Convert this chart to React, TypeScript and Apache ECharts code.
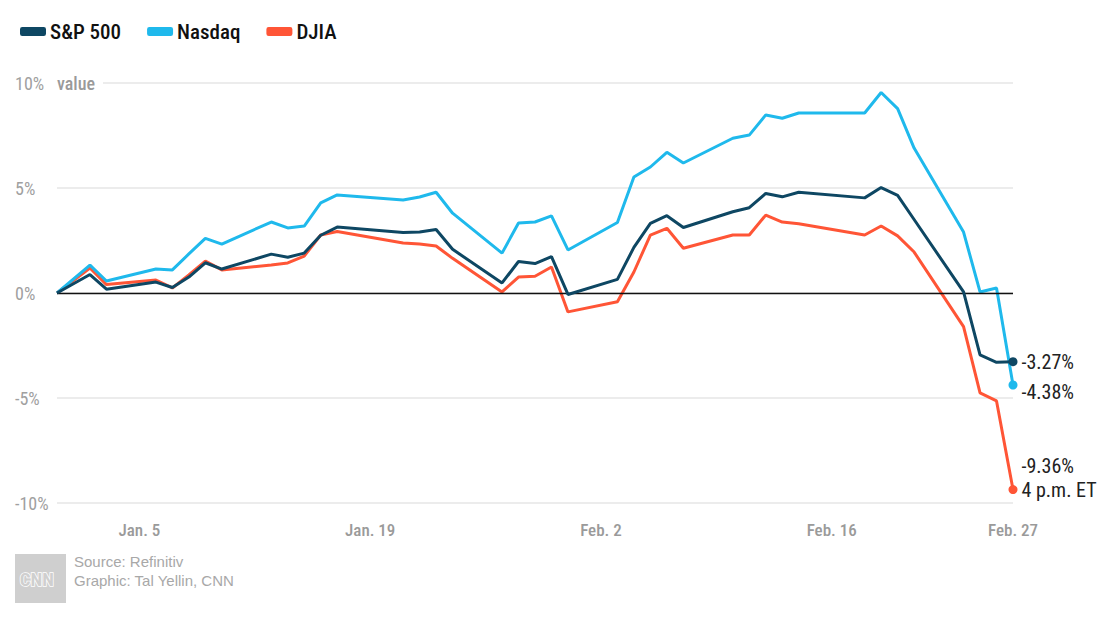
import React, { useEffect, useRef } from "react";
import * as echarts from "echarts";

const dates = [
  "2019-12-31", "2020-01-02", "2020-01-03", "2020-01-06", "2020-01-07", "2020-01-08", "2020-01-09", "2020-01-10",
  "2020-01-13", "2020-01-14", "2020-01-15", "2020-01-16", "2020-01-17", "2020-01-21", "2020-01-22", "2020-01-23",
  "2020-01-24", "2020-01-27", "2020-01-28", "2020-01-29", "2020-01-30", "2020-01-31", "2020-02-03", "2020-02-04",
  "2020-02-05", "2020-02-06", "2020-02-07", "2020-02-10", "2020-02-11", "2020-02-12", "2020-02-13", "2020-02-14",
  "2020-02-18", "2020-02-19", "2020-02-20", "2020-02-21", "2020-02-24", "2020-02-25", "2020-02-26", "2020-02-27",
];

const sp500 = [
  0, 0.88, 0.18, 0.52, 0.26, 0.76, 1.44, 1.14, 1.85, 1.7, 1.9, 2.75, 3.14, 2.88, 2.9, 3.02, 2.08, 0.48, 1.5, 1.4,
  1.73, -0.07, 0.65, 2.17, 3.32, 3.68, 3.12, 3.87, 4.06, 4.74, 4.58, 4.8, 4.53, 5.02, 4.65, 3.5, 0.05, -2.95, -3.3, -3.27,
];

const nasdaq = [
  0, 1.33, 0.57, 1.14, 1.1, 1.86, 2.6, 2.33, 3.38, 3.1, 3.19, 4.29, 4.67, 4.43, 4.57, 4.8, 3.8, 1.9, 3.33, 3.38,
  3.67, 2.05, 3.36, 5.52, 6.0, 6.7, 6.19, 7.37, 7.52, 8.48, 8.32, 8.57, 8.57, 9.55, 8.78, 6.9, 2.9, 0.05, 0.24, -4.38,
];

const djia = [
  0, 1.19, 0.4, 0.62, 0.24, 0.86, 1.52, 1.1, 1.33, 1.43, 1.76, 2.76, 2.93, 2.38, 2.33, 2.24, 1.65, 0.05, 0.76, 0.8,
  1.24, -0.9, -0.42, 1.0, 2.76, 3.08, 2.13, 2.76, 2.76, 3.71, 3.38, 3.3, 2.76, 3.19, 2.72, 1.95, -1.6, -4.76, -5.14, -9.36,
];

const seriesNames = ["S&P 500", "Nasdaq", "DJIA"];
const seriesColors = ["#0e4763", "#1fb9ec", "#ff5536"];

const tickDates = ["2020-01-05", "2020-01-19", "2020-02-02", "2020-02-16", "2020-02-27"];
const tickLabels = ["Jan. 5", "Jan. 19", "Feb. 2", "Feb. 16", "Feb. 27"];

const yTicks = [-10, -5, 0, 5, 10];

const sourceLines = ["Source: Refinitiv", "Graphic: Tal Yellin, CNN"];

const COND = "'Roboto Condensed', 'Liberation Sans Narrow', 'DejaVu Sans Condensed', Roboto, sans-serif";

function toUTC(s: string) {
  const [y, m, d] = s.split("-").map(Number);
  return Date.UTC(y, m - 1, d);
}
const DAY = 86400000;
const base = toUTC(dates[0]);
const dayOf = (s: string) => Math.round((toUTC(s) - base) / DAY);
const xDays = dates.map(dayOf);
const tickDays = tickDates.map(dayOf);

export default function App() {
  const ref = useRef<HTMLDivElement>(null);

  useEffect(() => {
    document.body.style.margin = "0";
    if (!ref.current) return;
    const chart = echarts.init(ref.current, undefined, { renderer: "svg" });

    const endLabelCfg = [
      { offset: [0, 0], extra: "" },
      { offset: [0, 7], extra: "" },
      { offset: [0, -12], extra: "\n4 p.m. ET" },
    ];

    const makeSeries = (vals: number[], i: number) => {
      const last = vals.length - 1;
      return {
        name: seriesNames[i],
        type: "line",
        symbol: "none",
        showSymbol: true,
        z: 3 + (2 - i),
        color: seriesColors[i],
        lineStyle: { width: 3, color: seriesColors[i] },
        emphasis: { disabled: true },
        data: vals.map((v, k) => {
          if (k !== last) return [xDays[k], v];
          return {
            value: [xDays[k], v],
            symbol: "circle",
            symbolSize: 9,
            itemStyle: { color: seriesColors[i] },
            label: {
              show: true,
              position: "right",
              distance: 4,
              offset: endLabelCfg[i].offset,
              formatter: `${v.toFixed(2)}%${endLabelCfg[i].extra}`,
              color: "#222",
              fontSize: 20,
              lineHeight: 24,
              fontFamily: COND,
              fontWeight: "normal",
              align: "left",
            },
          };
        }),
      };
    };

    const option: any = {
      animation: false,
      backgroundColor: "#ffffff",
      grid: {
        left: 57,
        right: 97,
        top: 83,
        bottom: 128,
        containLabel: false,
        outerBoundsMode: "none",
      },
      legend: {
        data: seriesNames,
        left: 15,
        top: 16,
        icon: "roundRect",
        itemWidth: 26,
        itemHeight: 9,
        itemGap: 26,
        selectedMode: false,
        textStyle: {
          color: "#111",
          fontSize: 21,
          fontWeight: 500,
          fontFamily: COND,
          padding: [0, 0, 0, -1],
        },
      },
      xAxis: {
        type: "value",
        min: xDays[0],
        max: xDays[xDays.length - 1],
        axisLine: { show: false, onZero: false },
        axisTick: { show: false },
        splitLine: { show: false },
        axisLabel: {
          customValues: tickDays,
          showMinLabel: true,
          showMaxLabel: true,
          margin: 18,
          color: "#9a9a9a",
          fontSize: 17,
          fontWeight: 500,
          fontFamily: COND,
          formatter: (v: number) => {
            const idx = tickDays.indexOf(Math.round(v));
            return idx >= 0 ? tickLabels[idx] : "";
          },
        },
      },
      yAxis: {
        type: "value",
        min: yTicks[0],
        max: yTicks[yTicks.length - 1],
        interval: 5,
        name: "value",
        nameLocation: "end",
        nameGap: 0,
        nameTextStyle: {
          align: "left",
          verticalAlign: "middle",
          color: "#9a9a9a",
          fontSize: 18,
          fontWeight: 500,
          fontFamily: COND,
          backgroundColor: "#ffffff",
          padding: [3, 8, 3, 0],
        },
        axisLine: { show: false },
        axisTick: { show: false },
        splitLine: { show: true, lineStyle: { color: "#ececec", width: 2 } },
        axisLabel: {
          align: "left",
          margin: 42,
          color: "#a0a0a0",
          fontSize: 18,
          fontWeight: "normal",
          fontFamily: COND,
          formatter: (v: number) => `${v}%`,
        },
      },
      series: [
        {
          name: "zero",
          type: "line",
          data: [],
          z: 2,
          silent: true,
          markLine: {
            silent: true,
            symbol: "none",
            label: { show: false },
            lineStyle: { color: "#111", width: 1.3, type: "solid" },
            emphasis: { disabled: true },
            data: [{ yAxis: 0 }],
          },
        },
        makeSeries(sp500, 0),
        makeSeries(nasdaq, 1),
        makeSeries(djia, 2),
      ],
      graphic: [
        {
          type: "rect",
          left: 15,
          top: 554,
          shape: { width: 51, height: 49 },
          style: { fill: "#cfcfcf" },
        },
        {
          type: "text",
          left: 19,
          top: 569,
          style: {
            text: "CNN",
            fill: "#cfcfcf",
            stroke: "#ffffff",
            lineWidth: 1.5,
            fontSize: 19,
            fontWeight: "bold",
            fontFamily: COND,
          },
        },
        {
          type: "text",
          left: 74,
          top: 554,
          style: {
            text: sourceLines[0],
            fill: "#a8a8a8",
            fontSize: 15,
            fontFamily: "'Liberation Sans', Arial, sans-serif",
          },
        },
        {
          type: "text",
          left: 74,
          top: 573,
          style: {
            text: sourceLines[1],
            fill: "#a8a8a8",
            fontSize: 15,
            fontFamily: "'Liberation Sans', Arial, sans-serif",
          },
        },
      ],
    };

    chart.setOption(option);
    return () => chart.dispose();
  }, []);

  return <div ref={ref} style={{ width: 1110, height: 631 }} />;
}
